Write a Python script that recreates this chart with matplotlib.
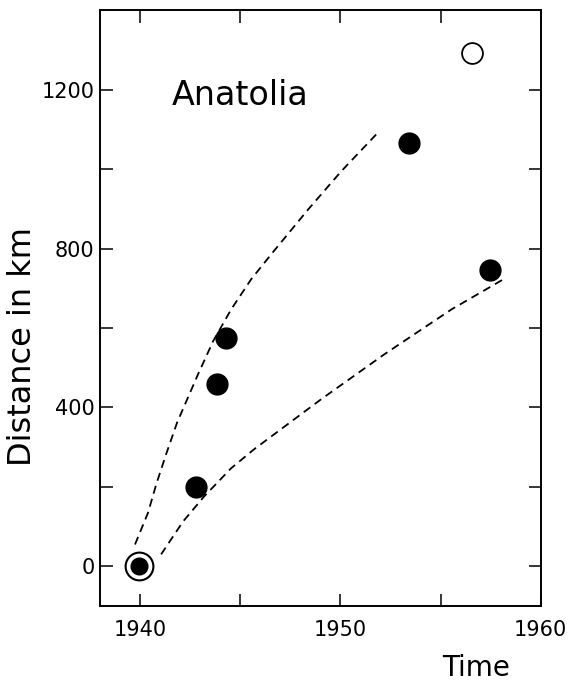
import matplotlib
matplotlib.use('Agg')
import matplotlib.pyplot as plt

# earthquake epicentres (year, distance along fault in km)
years = [1942.8, 1943.85, 1944.3, 1953.4, 1957.45]
dist = [200, 460, 575, 1065, 745]
origin_year = [1939.95]
origin_dist = [0]
open_year = [1956.55]
open_dist = [1292]

# dashed envelope curves
upper_t = [1939.75, 1940.4, 1940.8, 1941.3, 1941.85, 1942.9, 1943.65, 1944.55, 1945.55, 1946.7, 1948.4, 1950.05, 1951.8]
upper_d = [55, 135, 205, 282, 362, 484, 567, 647, 723, 795, 899, 995, 1088]
lower_t = [1941.05, 1942.15, 1943.2, 1944.55, 1945.7, 1949.05, 1952.2, 1955.55, 1958.15]
lower_d = [30, 113, 176, 247, 295, 421, 534, 647, 723]

fig = plt.figure(figsize=(5.68, 6.84), dpi=100)
ax = fig.add_axes([0.176, 0.114, 0.776, 0.871])

ax.plot(upper_t, upper_d, color='black', lw=1.3, dashes=(4.5, 3))
ax.plot(lower_t, lower_d, color='black', lw=1.3, dashes=(4.5, 3))

ax.plot(years, dist, 'o', color='black', ms=15)
ax.plot(origin_year, origin_dist, 'o', mfc='none', mec='black', mew=1.5, ms=20)
ax.plot(origin_year, origin_dist, 'o', color='black', ms=12)
ax.plot(open_year, open_dist, 'o', mfc='white', mec='black', mew=1.3, ms=15)

ax.text(1945.0, 1185, 'Anatolia', fontsize=24, ha='center', va='center')

ax.set_xlim(1938, 1960)
ax.set_ylim(-100, 1400)
ax.set_xticks([1940, 1950, 1960])
ax.set_xticks([1945, 1955], minor=True)
ax.set_yticks([0, 400, 800, 1200])
ax.set_yticks([200, 600, 1000], minor=True)
ax.tick_params(which='both', direction='in', top=True, right=True, labelsize=15, width=1.1, length=9)
ax.tick_params(axis='y', pad=4)
ax.tick_params(axis='x', pad=10)
for s in ax.spines.values():
    s.set_linewidth(1.4)

ax.set_ylabel('Distance in km', fontsize=23)
ax.yaxis.set_label_coords(-0.14, 0.435)
fig.text(476 / 568.0, 1 - 668 / 684.0, 'Time', fontsize=20, ha='center', va='center')

plt.savefig('out.png', dpi=100)
plt.close()
